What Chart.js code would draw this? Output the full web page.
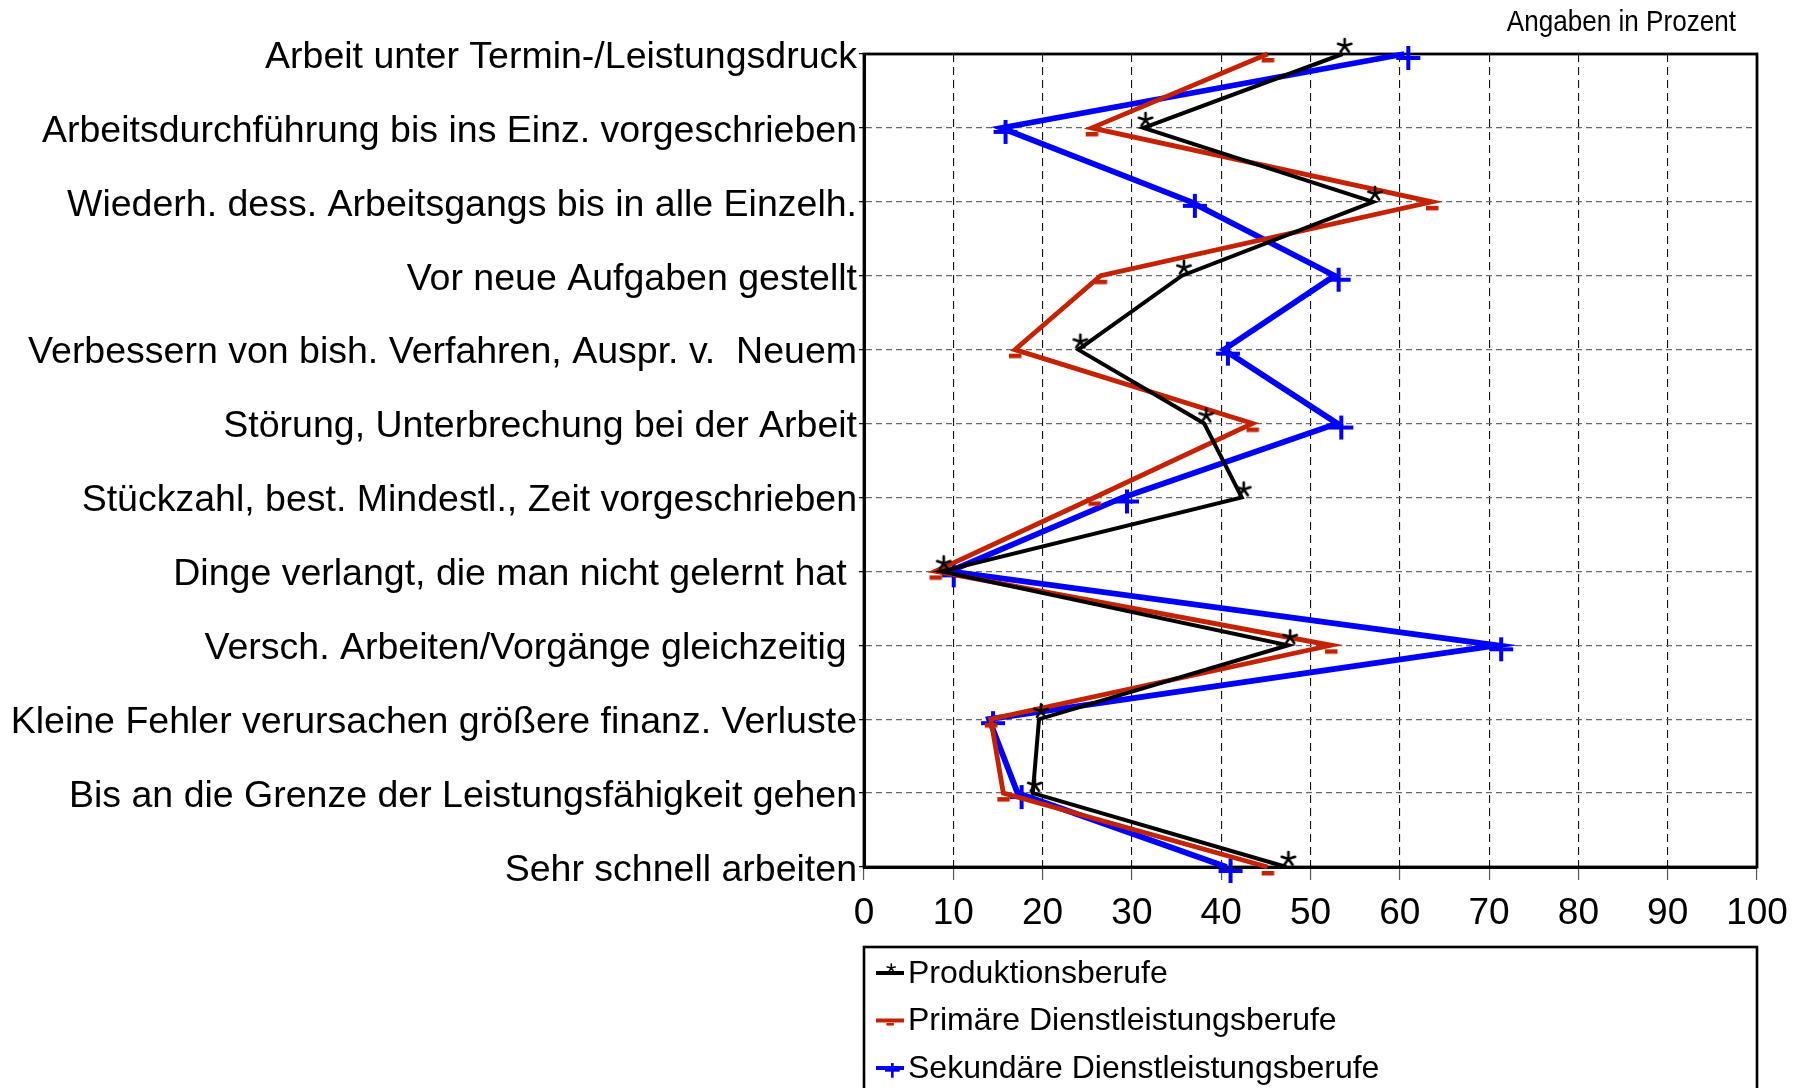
<!DOCTYPE html>
<html>
<head>
<meta charset="utf-8">
<script src="https://cdn.jsdelivr.net/npm/chart.js@4.4.0/dist/chart.umd.min.js"></script>
<style>
  html, body { margin: 0; padding: 0; background: #fff; }
  #wrap { width: 1800px; height: 1088px; position: relative; }
</style>
</head>
<body>
<div id="wrap"><canvas id="chart"></canvas></div>
<script>
const categories = [
    'Arbeit unter Termin-/Leistungsdruck',
    'Arbeitsdurchführung bis ins Einz. vorgeschrieben',
    'Wiederh. dess. Arbeitsgangs bis in alle Einzelh.',
    'Vor neue Aufgaben gestellt',
    'Verbessern von bish. Verfahren, Auspr. v.  Neuem',
    'Störung, Unterbrechung bei der Arbeit',
    'Stückzahl, best. Mindestl., Zeit vorgeschrieben',
    'Dinge verlangt, die man nicht gelernt hat ',
    'Versch. Arbeiten/Vorgänge gleichzeitig ',
    'Kleine Fehler verursachen größere finanz. Verluste',
    'Bis an die Grenze der Leistungsfähigkeit gehen',
    'Sehr schnell arbeiten'
];
const seriesNames = ['Produktionsberufe', 'Primäre Dienstleistungsberufe', 'Sekundäre Dienstleistungsberufe'];
const produktion = [53.6, 31.3, 57.0, 35.6, 24.0, 38.1, 42.3, 8.7, 47.5, 19.6, 18.9, 47.3];
const primaer    = [45.2, 25.5, 63.6, 26.5, 16.9, 43.5, 25.8, 8.0, 52.3, 14.2, 15.6, 45.2];
const sekundaer  = [60.5, 15.4, 36.6, 52.7, 40.3, 53.0, 29.0, 9.6, 70.9, 14.0, 17.2, 40.6];
const xTicks = [0, 10, 20, 30, 40, 50, 60, 70, 80, 90, 100];
const note = 'Angaben in Prozent';

const FONT = '"Liberation Sans", Arial, sans-serif';

// small marker images, the data point sits in the middle of the canvas
function makeMarker(kind, color) {
    const c = document.createElement('canvas');
    c.width = 44; c.height = 44;
    const g = c.getContext('2d');
    g.strokeStyle = color;
    g.fillStyle = color;
    const cx = 22, cy = 22;
    if (kind === 'star') {
        g.lineWidth = 2.6;
        g.lineCap = 'round';
        const sx = cx + 2, sy = cy - 8, r = 7;
        for (let k = 0; k < 5; k++) {
            const a = -Math.PI / 2 + k * 2 * Math.PI / 5;
            g.beginPath();
            g.moveTo(sx, sy);
            g.lineTo(sx + r * Math.cos(a), sy + r * Math.sin(a));
            g.stroke();
        }
    } else if (kind === 'dash') {
        g.fillRect(cx - 6, cy + 4, 12.5, 4.5);
    } else {
        g.lineWidth = 4;
        g.beginPath();
        g.moveTo(cx + 4, cy + 4 - 12); g.lineTo(cx + 4, cy + 4 + 12);
        g.moveTo(cx + 4 - 12, cy + 4); g.lineTo(cx + 4 + 12, cy + 4);
        g.stroke();
    }
    return c;
}

const colors = ['#000000', '#C42200', '#0000FF'];
const widths = [4, 4.8, 5.8];
const markers = [makeMarker('star', colors[0]), makeMarker('dash', colors[1]), makeMarker('plus', colors[2])];
const values = [produktion, primaer, sekundaer];

const datasets = values.map((vals, i) => ({
    label: seriesNames[i],
    data: vals,
    borderColor: colors[i],
    backgroundColor: colors[i],
    borderWidth: widths[i],
    pointStyle: markers[i],
    pointRadius: 6,
    pointHoverRadius: 6,
    tension: 0,
    fill: false,
    clip: false
}));

const framePlugin = {
    id: 'frame',
    beforeDatasetsDraw(chart) {
        const { ctx, chartArea: a } = chart;
        ctx.save();
        ctx.strokeStyle = '#000';
        ctx.lineWidth = 2.8;
        ctx.strokeRect(a.left, a.top, a.right - a.left, a.bottom - a.top);
        ctx.restore();
    },
    afterDraw(chart) {
        const { ctx, chartArea: a } = chart;
        ctx.save();
        // note top right, condensed face
        ctx.fillStyle = '#000';
        ctx.font = '30px ' + FONT;
        ctx.textAlign = 'right';
        ctx.textBaseline = 'middle';
        ctx.save();
        ctx.translate(a.right - 21, 23);
        ctx.scale(0.87, 1);
        ctx.fillText(note, 0, 0);
        ctx.restore();

        // legend box
        const top = a.bottom + 80;
        ctx.strokeStyle = '#000';
        ctx.lineWidth = 2.6;
        ctx.strokeRect(a.left, top, a.right - a.left, chart.height - top + 10);
        ctx.font = '32px ' + FONT;
        ctx.textAlign = 'left';
        chart.data.datasets.forEach((ds, i) => {
            const y = top + 26 + i * 47.5;
            ctx.strokeStyle = ds.borderColor;
            ctx.lineWidth = 4;
            ctx.beginPath();
            ctx.moveTo(a.left + 12, y);
            ctx.lineTo(a.left + 40, y);
            ctx.stroke();
            const m = ds.pointStyle;
            const s = 0.6;
            ctx.drawImage(m, a.left + 26 - m.width * s / 2, y - m.height * s / 2, m.width * s, m.height * s);
            ctx.fillStyle = '#000';
            ctx.fillText(ds.label, a.left + 44, y + 1);
        });
        ctx.restore();
    }
};

new Chart(document.getElementById('chart'), {
    type: 'line',
    data: { labels: categories, datasets },
    options: {
        indexAxis: 'y',
        responsive: true,
        maintainAspectRatio: false,
        animation: false,
        layout: { padding: { top: 54, right: 43, bottom: 153, left: 0 } },
        plugins: {
            legend: { display: false },
            tooltip: { enabled: false }
        },
        scales: {
            x: {
                type: 'linear',
                min: 0,
                max: 100,
                afterBuildTicks(scale) { scale.ticks = xTicks.map(v => ({ value: v })); },
                afterFit(scale) { scale.height = 68; },
                ticks: { color: '#000', font: { family: FONT, size: 37 }, padding: 12 },
                grid: { color: '#111', lineWidth: 1.1, tickLength: 13, tickColor: '#555', tickWidth: 1.2 },
                border: { display: true, color: '#000', width: 3, dash: [8, 5] }
            },
            y: {
                type: 'category',
                afterFit(scale) { scale.width = 864; },
                ticks: { color: '#000', font: { family: FONT, size: 37.5 }, padding: 2, labelOffset: 3.5, autoSkip: false },
                grid: { color: '#6a6a6a', lineWidth: 1.3, tickLength: 5, tickColor: '#000', tickWidth: 1.2 },
                border: { display: true, color: '#000', width: 3, dash: [6, 4] }
            }
        }
    },
    plugins: [framePlugin]
});
</script>
</body>
</html>
